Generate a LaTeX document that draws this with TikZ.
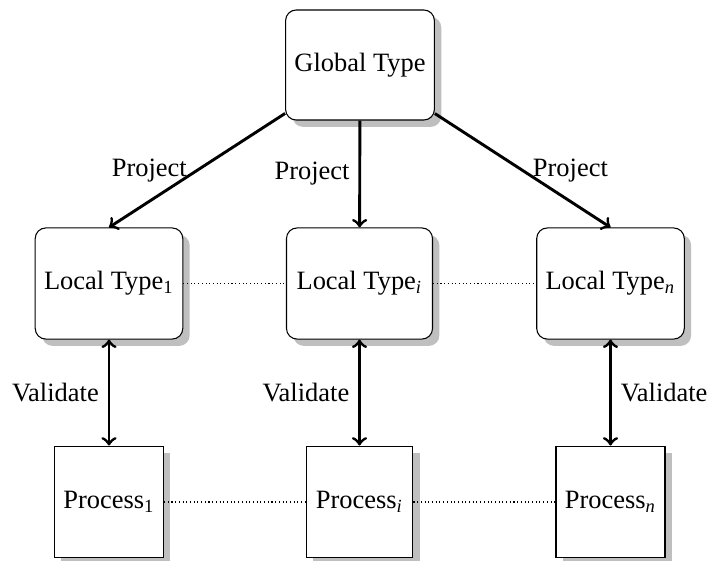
\documentclass[tikz,border=0pt]{standalone}
\usepackage{fontspec}
\setmainfont{Liberation Serif}
\usetikzlibrary{shadows}

\begin{document}
\begin{tikzpicture}[x=0.378pt,y=-0.378pt,>=to,
    boxshadow/.style={drop shadow={shadow xshift=2.6pt,shadow yshift=-2.6pt,fill=black!25,opacity=1}},
    typebox/.style={draw,rounded corners=4pt,fill=white,minimum width=55.2pt,minimum height=42pt,boxshadow},
    procbox/.style={draw,fill=white,minimum width=40.4pt,minimum height=42.3pt,boxshadow},
    link/.style={line width=1.1pt},
    peer/.style={line width=0.4pt,dash pattern=on 0.4pt off 1pt}]
    \useasboundingbox (0,0) rectangle (708,561);
    % Global type
    \node[typebox,minimum width=55.9pt,minimum height=41.6pt] (global) at (360,65) {Global Type};
    % Local types
    \node[typebox] (local1) at (109,283.5) {Local Type\textsubscript{1}};
    \node[typebox] (locali) at (359.5,283.5) {Local Type\textsubscript{\textit{i}}};
    \node[typebox] (localn) at (610.5,283.5) {Local Type\textsubscript{\textit{n}}};
    % Processes
    \node[procbox] (proc1) at (109,502) {Process\textsubscript{1}};
    \node[procbox] (proci) at (359.5,502) {Process\textsubscript{\textit{i}}};
    \node[procbox] (procn) at (610.5,502) {Process\textsubscript{\textit{n}}};
    % Projection
    \draw[->,link] (global) -- node[left] {Project} (local1.north);
    \draw[->,link] (global) -- node[left] {Project} (locali);
    \draw[->,link] (global) -- node[right] {Project} (localn.north);
    % Validation
    \draw[<->,link] (local1) -- node[left] {Validate} (proc1);
    \draw[<->,link] (locali) -- node[left] {Validate} (proci);
    \draw[<->,link] (localn) -- node[right] {Validate} (procn);
    % Dotted rows
    \draw[peer] (local1) -- (locali) -- (localn);
    \draw[peer] (proc1) -- (proci) -- (procn);
\end{tikzpicture}
\end{document}
